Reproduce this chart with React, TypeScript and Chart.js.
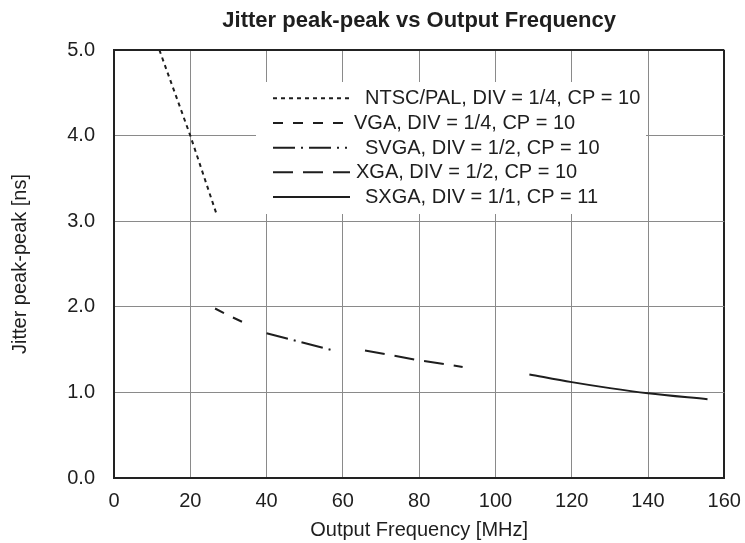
import React, { useEffect, useRef } from 'react';
import { Chart, registerables } from 'chart.js';

Chart.register(...registerables);

// ---- data ----
const seriesLabels = [
  'NTSC/PAL, DIV = 1/4, CP = 10',
  'VGA, DIV = 1/4, CP = 10',
  'SVGA, DIV = 1/2, CP = 10',
  'XGA, DIV = 1/2, CP = 10',
  'SXGA, DIV = 1/1, CP = 11',
];

const ntscFreq = [11.9, 20, 26.9];
const ntscJitter = [5.0, 4.0, 3.08];

const vgaFreq = [26.5, 30, 33.8];
const vgaJitter = [1.98, 1.9, 1.82];

const svgaFreq = [40, 48, 57.5];
const svgaJitter = [1.69, 1.6, 1.49];

const xgaFreq = [65.8, 80, 91.4];
const xgaJitter = [1.49, 1.375, 1.297];

const sxgaFreq = [108.9, 120, 130, 140, 155.6];
const sxgaJitter = [1.21, 1.12, 1.05, 0.99, 0.92];

const xTickValues = [0, 20, 40, 60, 80, 100, 120, 140, 160];
const yTickLabels = ['0.0', '1.0', '2.0', '3.0', '4.0', '5.0'];

const titleText = 'Jitter peak-peak vs Output Frequency';
const xAxisTitle = 'Output Frequency [MHz]';
const yAxisTitle = 'Jitter peak-peak [ns]';

const FONT = '"Liberation Sans", Arial, Helvetica, sans-serif';
const INK = '#1e1e1e';

const toPoints = (xs: number[], ys: number[]) => xs.map((x, i) => ({ x, y: ys[i] }));

const legendPlugin = {
  id: 'boxLegend',
  afterDatasetsDraw(chart: any, _args: any, opts: any) {
    const { ctx, chartArea } = chart;
    const left = chartArea.left + opts.offsetX;
    const top = chartArea.top + opts.offsetY;
    ctx.save();
    ctx.fillStyle = '#ffffff';
    ctx.fillRect(left, top, opts.width, opts.height);
    ctx.font = `20px ${FONT}`;
    ctx.textBaseline = 'middle';
    ctx.textAlign = 'left';
    chart.data.datasets.forEach((ds: any, i: number) => {
      const y = top + opts.firstRow + i * opts.rowGap;
      ctx.strokeStyle = INK;
      ctx.lineWidth = 2;
      ctx.lineCap = 'butt';
      ctx.setLineDash(ds.borderDash || []);
      ctx.beginPath();
      ctx.moveTo(left + opts.lineStart, y);
      ctx.lineTo(left + opts.lineEnd, y);
      ctx.stroke();
      ctx.setLineDash([]);
      ctx.fillStyle = INK;
      ctx.fillText(ds.label, left + opts.textX[i], y + 0.5);
    });
    ctx.restore();
  },
};

export default function App() {
  const canvasRef = useRef<HTMLCanvasElement | null>(null);

  useEffect(() => {
    const canvas = canvasRef.current;
    if (!canvas) return;
    Chart.defaults.font.family = FONT;
    Chart.defaults.color = INK;

    const styles = [
      { dash: [4, 4], mode: 'default' },
      { dash: [10, 10], mode: 'default' },
      { dash: [22, 6, 2, 6, 22, 6, 2, 6, 2, 6], mode: 'default' },
      { dash: [20, 10], mode: 'default' },
      { dash: [], mode: 'monotone' },
    ];
    const series = [
      toPoints(ntscFreq, ntscJitter),
      toPoints(vgaFreq, vgaJitter),
      toPoints(svgaFreq, svgaJitter),
      toPoints(xgaFreq, xgaJitter),
      toPoints(sxgaFreq, sxgaJitter),
    ];

    const chart = new Chart(canvas, {
      type: 'line',
      data: {
        datasets: series.map((data, i) => ({
          label: seriesLabels[i],
          data,
          borderColor: INK,
          backgroundColor: INK,
          borderWidth: 2,
          borderDash: styles[i].dash,
          borderCapStyle: 'butt',
          cubicInterpolationMode: styles[i].mode as any,
          tension: 0,
          pointRadius: 0,
          pointHoverRadius: 0,
          fill: false,
        })),
      },
      options: {
        responsive: false,
        animation: false,
        events: [],
        layout: { padding: { left: 0, right: 20.7, top: 0, bottom: 0 } },
        plugins: {
          legend: { display: false },
          tooltip: { enabled: false },
          title: {
            display: true,
            text: titleText,
            fullSize: false,
            color: INK,
            font: { size: 22, weight: 'bold', family: FONT },
            padding: { top: 7.5, bottom: 16.1 },
          },
          boxLegend: {
            offsetX: 142,
            offsetY: 32,
            width: 390,
            height: 132,
            firstRow: 16.3,
            rowGap: 24.67,
            lineStart: 159 - 142,
            lineEnd: 236 - 142,
            textX: [109, 98, 109, 100, 109],
          },
        } as any,
        scales: {
          x: {
            type: 'linear',
            min: 0,
            max: 160,
            afterBuildTicks: (scale: any) => {
              scale.ticks = xTickValues.map((v) => ({ value: v }));
            },
            afterFit: (scale: any) => {
              scale.height = 65;
              scale.paddingLeft = 0;
              scale.paddingRight = 0;
            },
            ticks: {
              color: INK,
              font: { size: 20 },
              padding: 11,
              maxRotation: 0,
              autoSkip: false,
              callback: (v: any) => String(v),
            },
            grid: {
              drawTicks: false,
              color: (c: any) => (c.tick && c.tick.value === 160 ? '#222222' : '#8a8a8a'),
              lineWidth: (c: any) => (c.tick && c.tick.value === 160 ? 2 : 1),
            },
            border: { display: true, color: '#222222', width: 2 },
            title: {
              display: true,
              text: xAxisTitle,
              color: INK,
              font: { size: 20 },
              padding: { top: 0, bottom: 1 },
            },
          },
          y: {
            type: 'linear',
            min: 0,
            max: 5,
            afterBuildTicks: (scale: any) => {
              scale.ticks = yTickLabels.map((_, i) => ({ value: i }));
            },
            afterFit: (scale: any) => {
              scale.width = 114;
              scale.paddingTop = 0;
              scale.paddingBottom = 0;
            },
            ticks: {
              color: INK,
              font: { size: 20 },
              padding: 19,
              autoSkip: false,
              callback: (_v: any, i: number) => yTickLabels[i],
            },
            grid: {
              drawTicks: false,
              color: (c: any) => (c.tick && c.tick.value === 5 ? '#222222' : '#8a8a8a'),
              lineWidth: (c: any) => (c.tick && c.tick.value === 5 ? 2 : 1),
            },
            border: { display: true, color: '#222222', width: 2 },
            title: {
              display: true,
              text: yAxisTitle,
              color: INK,
              font: { size: 20 },
              padding: { top: 8.5, bottom: 0 },
            },
          },
        },
      },
      plugins: [legendPlugin as any],
    });

    return () => {
      chart.destroy();
    };
  }, []);

  return (
    <div style={{ position: 'fixed', left: 0, top: 0, width: 745, height: 543, background: '#ffffff' }}>
      <canvas ref={canvasRef} width={745} height={543} style={{ display: 'block' }} />
    </div>
  );
}
